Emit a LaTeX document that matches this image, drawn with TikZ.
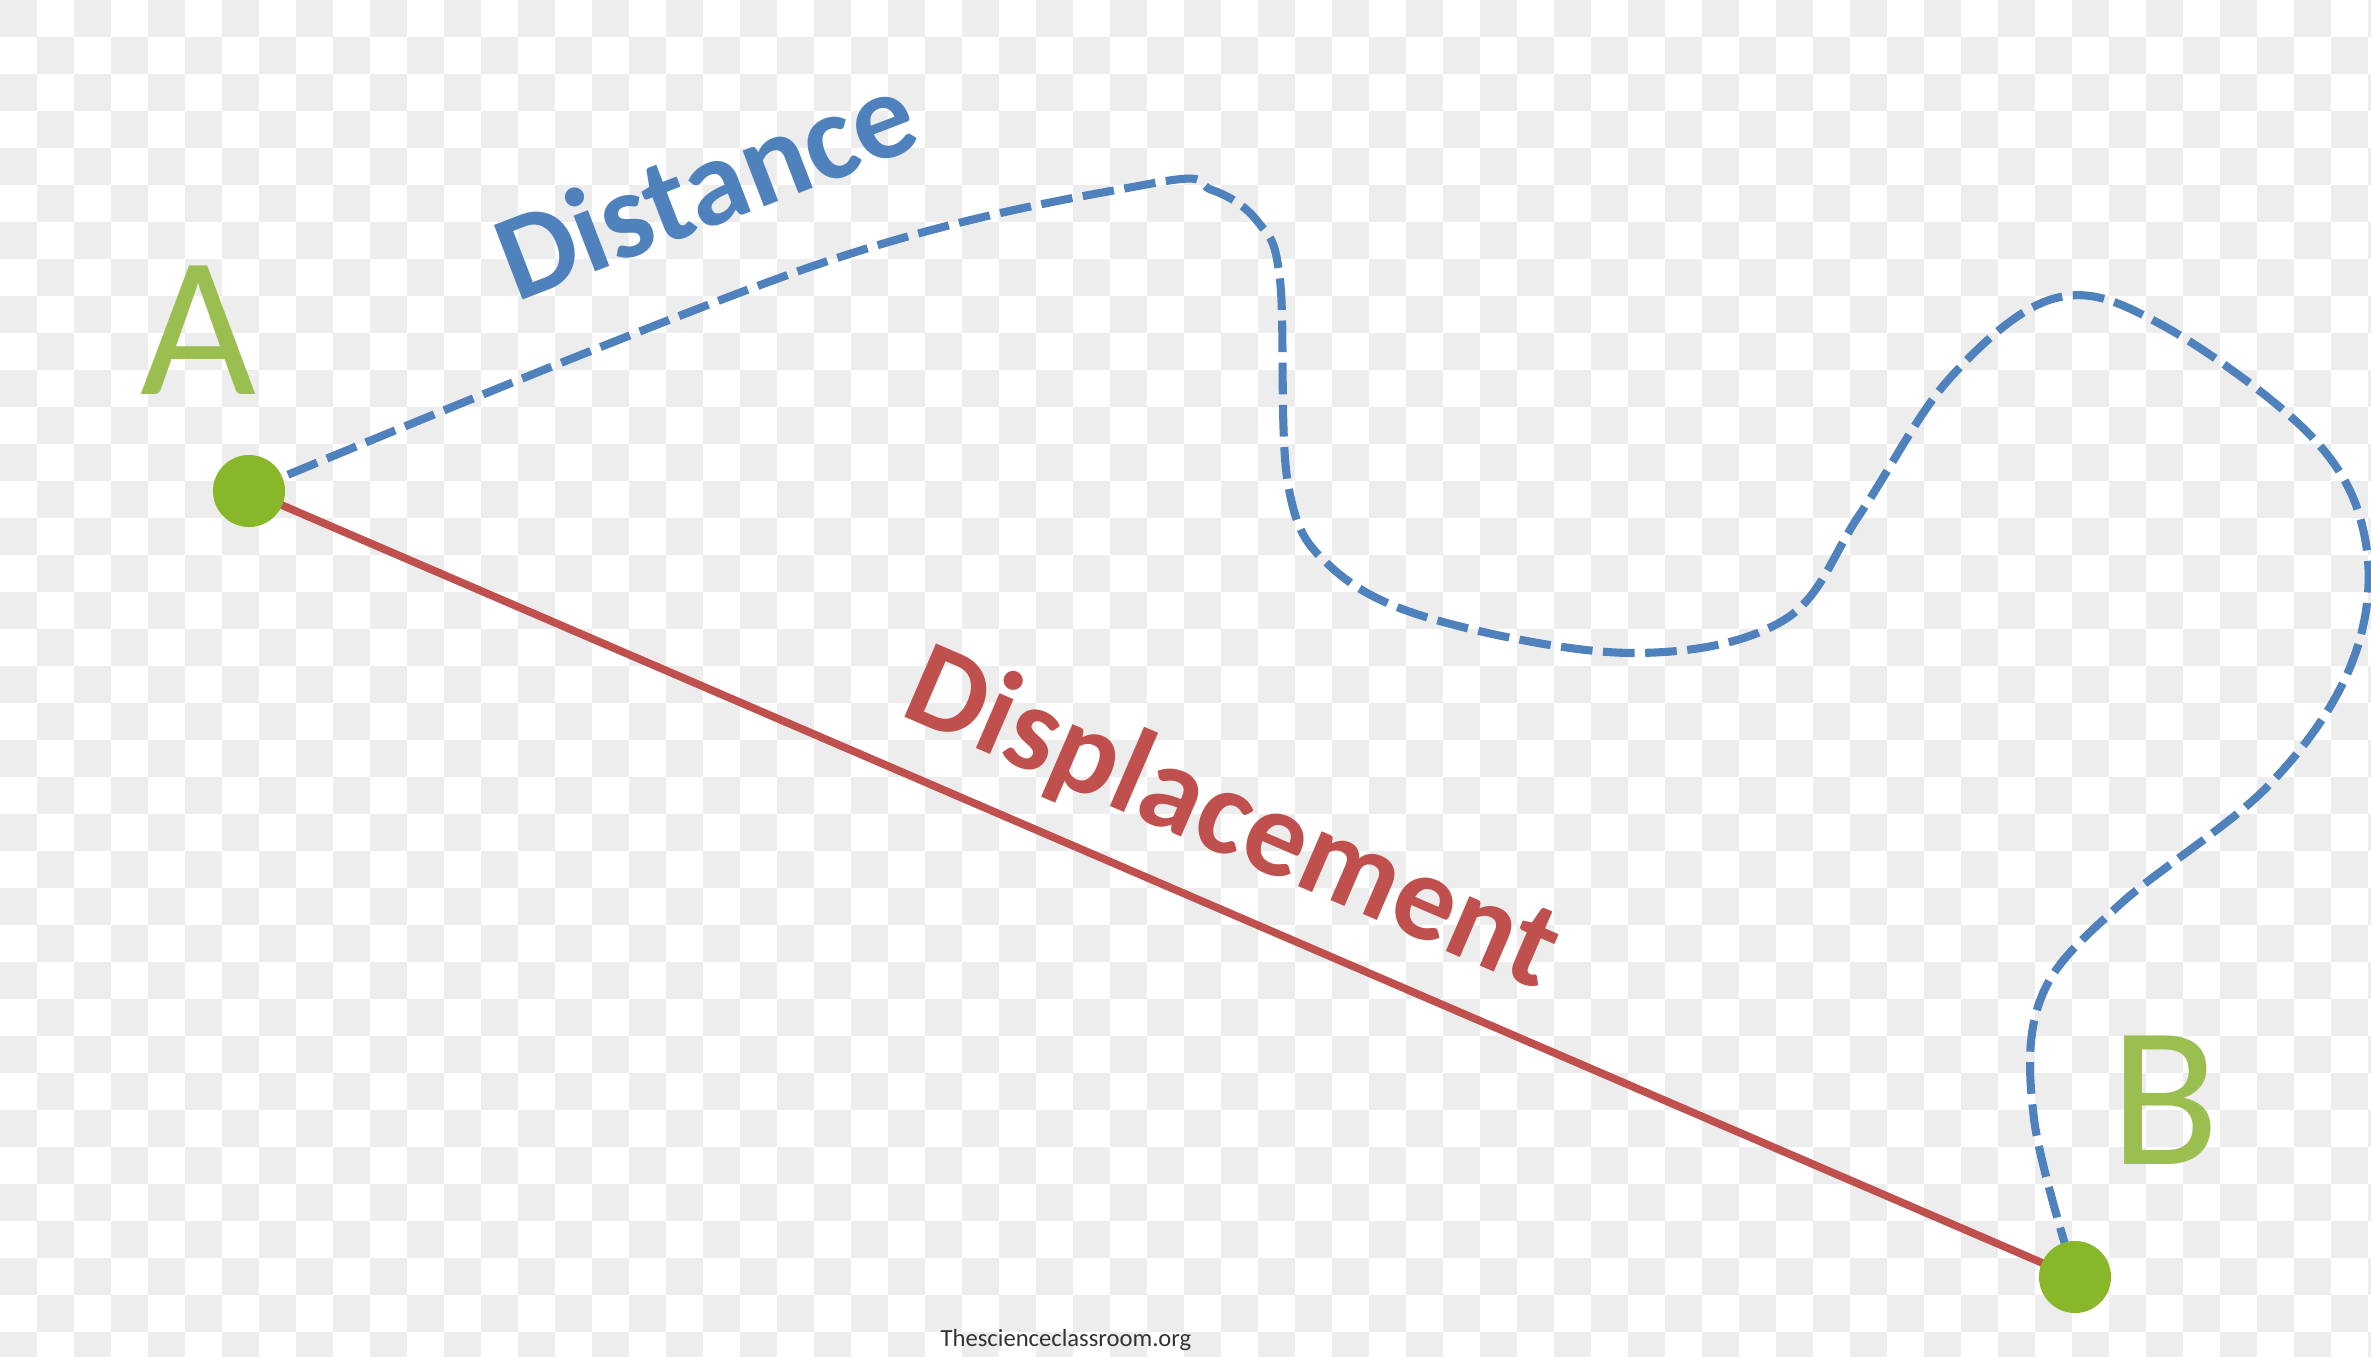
\documentclass[tikz,border=0pt]{standalone}
\usepackage{fontspec}
\newfontfamily\calibri{Carlito}
\usetikzlibrary{positioning,calc}
\definecolor{distblue}{RGB}{79,129,189}
\definecolor{dispred}{RGB}{192,80,77}
\definecolor{ptgreen}{RGB}{155,190,80}
\definecolor{dotgreen}{RGB}{136,184,42}
\definecolor{checkgray}{RGB}{237,237,237}

\begin{document}
\begin{tikzpicture}[
  x=0.01cm, y=-0.01cm,
  dot/.style={circle, fill=dotgreen, minimum size=0.72cm, inner sep=0pt},
  ptlab/.style={text=ptgreen, font=\calibri\fontsize{57}{60}\selectfont, inner sep=0pt},
  pathlab/.style={font=\calibri\bfseries\fontsize{35}{38}\selectfont, inner sep=0pt},
  walk/.style={distblue, line width=2.3pt, dash pattern=on 9pt off 3pt},
  shortest/.style={dispred, line width=2.2pt}
]
\useasboundingbox (0,0) rectangle (2371,1357);

% background checkerboard
\fill[white] (0,0) rectangle (2371,1357);
\foreach \i in {0,...,32}
  \foreach \j in {0,...,18} {
    \fill[checkgray] (74*\i,74*\j) rectangle ++(37,37);
    \fill[checkgray] (74*\i+37,74*\j+37) rectangle ++(37,37);
  }

% end points
\coordinate (A) at (249,491);
\coordinate (B) at (2075,1277);

% displacement (straight) and distance (winding)
\draw[shortest] (A) -- (B);
\draw[walk] plot[smooth, tension=0.6] coordinates {
  (A) (816,265) (1149,184) (1212,190) (1258,222) (1280,280) (1288,484)
  (1331,567) (1436,620) (1633,653) (1784,620) (1860,514)
  (1950,378) (2056,298) (2162,325) (2313,438) (2366,544)
  (2351,665) (2268,786) (2117,907) (2041,998) (2034,1119) (B)};

\node[dot] (ptA) at (A) {};
\node[dot] (ptB) at (B) {};
\node[ptlab] (labA) at (198,330) {A};
\node[ptlab] (labB) at (2165,1100) {B};

\node[pathlab, text=distblue, rotate=21] (distance) at (705,184) {Distance};
\node[pathlab, text=dispred, rotate=-23.3] (displacement) at (1232,822) {Displacement};

\node[font=\calibri\fontsize{7}{8}\selectfont, text=black!80] (credit) at (1066,1340) {Thescienceclassroom.org};
\end{tikzpicture}
\end{document}
